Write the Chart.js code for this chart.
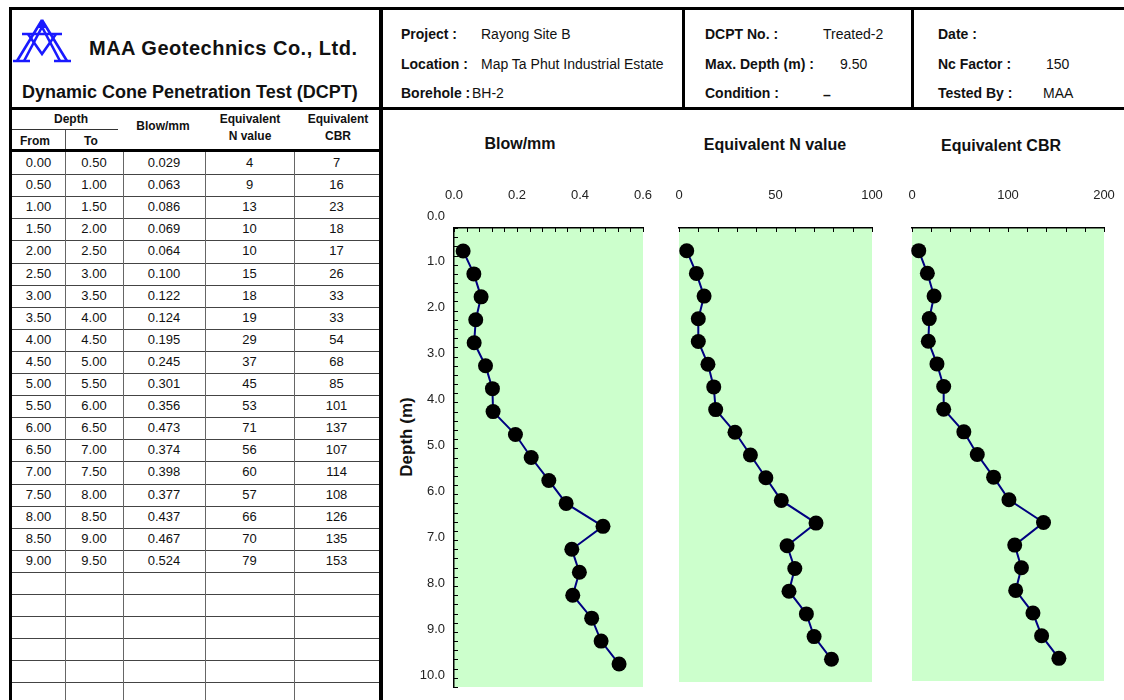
<!DOCTYPE html>
<html>
<head>
<meta charset="utf-8">
<title>DCPT Report - Treated-2</title>
<script src="https://cdn.jsdelivr.net/npm/chart.js@4.4.1/dist/chart.umd.min.js"></script>
<style>
  html, body { margin: 0; padding: 0; }
  body {
    width: 1124px; height: 700px; overflow: hidden; position: relative;
    background: #fff; color: #111;
    font-family: "Liberation Sans", Arial, sans-serif;
  }
  .ln { position: absolute; background: #000; }
  .t { position: absolute; white-space: nowrap; }
  canvas { position: absolute; }
</style>
</head>
<body>

<svg style="position:absolute;left:13px;top:18px" width="60" height="46" viewBox="0 0 60 46">
  <g stroke="#1a1aff" stroke-width="2.6" fill="none" stroke-linejoin="miter">
    <path d="M29 2 L4 43 M29 9 L11 43"/>
    <path d="M29 2 L54 43 M29 9 L47 43"/>
    <path d="M9 16 H49"/>
    <path d="M15 16 L29 36 L43 16"/>
    <path d="M0 43 H17 M41 43 H58"/>
  </g>
  <path d="M29 1 L25 10 L33 10 Z" fill="#1a1aff"/>
</svg>

<script>
// ---- Test data (depth intervals in metres) ----
const depthFrom = [0.00, 0.50, 1.00, 1.50, 2.00, 2.50, 3.00, 3.50, 4.00, 4.50,
                   5.00, 5.50, 6.00, 6.50, 7.00, 7.50, 8.00, 8.50, 9.00];
const depthTo   = [0.50, 1.00, 1.50, 2.00, 2.50, 3.00, 3.50, 4.00, 4.50, 5.00,
                   5.50, 6.00, 6.50, 7.00, 7.50, 8.00, 8.50, 9.00, 9.50];
const blowPerMm = [0.029, 0.063, 0.086, 0.069, 0.064, 0.100, 0.122, 0.124, 0.195, 0.245,
                   0.301, 0.356, 0.473, 0.374, 0.398, 0.377, 0.437, 0.467, 0.524];
const nValue    = [4, 9, 13, 10, 10, 15, 18, 19, 29, 37, 45, 53, 71, 56, 60, 57, 66, 70, 79];
const cbr       = [7, 16, 23, 18, 17, 26, 33, 33, 54, 68, 85, 101, 137, 107, 114, 108, 126, 135, 153];

// Axis tick labels
const depthTicks = [0, 1, 2, 3, 4, 5, 6, 7, 8, 9, 10];
const blowTicks  = [0, 0.2, 0.4, 0.6];
const nTicks     = [0, 50, 100];
const cbrTicks   = [0, 100, 200];

const FONT = '"Liberation Sans", Arial, sans-serif';

// ---- small DOM helpers ----
function line(x, y, w, h, color) {
  const d = document.createElement('div');
  d.className = 'ln';
  Object.assign(d.style, { left: x + 'px', top: y + 'px', width: w + 'px', height: h + 'px' });
  if (color) d.style.background = color;
  document.body.appendChild(d);
}
function text(str, x, cy, size, bold, center) {
  const d = document.createElement('div');
  d.className = 't';
  d.textContent = str;
  d.style.font = (bold ? 'bold ' : '') + size + 'px ' + FONT;
  d.style.lineHeight = '20px';
  d.style.left = x + 'px';
  d.style.top = (cy - 10) + 'px';
  if (center) d.style.transform = 'translateX(-50%)';
  document.body.appendChild(d);
  return d;
}

// ---- report frame ----
line(9, 7, 1115, 3);       // top
line(9, 107, 1115, 3);     // under header
line(9, 7, 3, 693);        // left
line(379, 7, 4, 693);      // between table and plots
line(682, 7, 3, 102);
line(911, 7, 3, 102);

// ---- header ----
const company = text('MAA Geotechnics Co., Ltd.', 89, 48, 20, true);
company.style.letterSpacing = '0.5px';
text('Dynamic Cone Penetration Test (DCPT)', 22, 92, 18, true);

const headerRows = [
  [401, 'Project :', 481, 'Rayong Site B'],
  [401, 'Location :', 481, 'Map Ta Phut Industrial Estate'],
  [401, 'Borehole :', 472, 'BH-2'],
  [705, 'DCPT No. :', 823, 'Treated-2'],
  [705, 'Max. Depth (m) :', 840, '9.50'],
  [705, 'Condition :', 823, '\u2013'],
  [938, 'Date :', 0, ''],
  [938, 'Nc Factor :', 1046, '150'],
  [938, 'Tested By :', 1043, 'MAA']
];
const rowY = [34, 64, 93];
headerRows.forEach((r, i) => {
  const y = rowY[i % 3];
  text(r[1], r[0], y, 14, true);
  if (r[3]) {
    const dash = r[3] === '\u2013';
    text(r[3], r[2], dash ? y + 2 : y, 14, dash);
  }
});

// ---- data table ----
const colEdges = [12, 65, 123, 205, 294, 379];
const rowTop = 152, rowH = 22.1, blankRows = 6;

text('Depth', 71, 119, 12, true, true);
line(12, 129, 106, 1, '#333');
line(65, 130, 1, 20, '#555');
text('From', 35, 141, 12, true, true);
text('To', 91, 141, 12, true, true);
text('Blow/mm', 163, 126, 12, true, true);
text('Equivalent', 250, 119, 12, true, true);
text('N value', 250, 136, 12, true, true);
text('Equivalent', 338, 119, 12, true, true);
text('CBR', 338, 136, 12, true, true);
line(9, 149, 372, 3);

const cols = [
  depthFrom.map(v => v.toFixed(2)),
  depthTo.map(v => v.toFixed(2)),
  blowPerMm.map(v => v.toFixed(3)),
  nValue.map(String),
  cbr.map(String)
];
const totalRows = depthFrom.length + blankRows;
for (let r = 0; r < totalRows; r++) {
  const top = rowTop + r * rowH;
  if (r < depthFrom.length) {
    cols.forEach((c, ci) => {
      text(c[r], (colEdges[ci] + colEdges[ci + 1]) / 2, top + rowH / 2, 13, false, true);
    });
  }
  line(12, Math.round(top + rowH), 367, 1, '#444');
}
for (let i = 1; i < colEdges.length - 1; i++) line(colEdges[i], rowTop, 1, 700 - rowTop, '#666');

// ---- plot titles ----
text('Blow/mm', 520, 144, 16, true, true);
text('Equivalent N value', 775, 145, 16, true, true);
text('Equivalent CBR', 1001, 146, 16, true, true);
const depthTitle = text('Depth (m)', 407, 437, 17, true);
depthTitle.style.transform = 'translate(-50%, 0) rotate(-90deg)';
depthTitle.style.transformOrigin = '50% 50%';

// ---- Chart.js plugins ----
const plotFill = {
  id: 'plotFill',
  beforeDraw(chart, args, opts) {
    const { ctx, chartArea: a } = chart;
    ctx.save();
    ctx.fillStyle = opts.color;
    ctx.fillRect(a.left, a.top, a.width, a.height);
    ctx.restore();
  }
};
// short inward tick marks along the top axis (and the depth axis)
const innerTicks = {
  id: 'innerTicks',
  beforeDatasetsDraw(chart, args, o) {
    const { ctx, chartArea: a, scales: { x, y } } = chart;
    ctx.save();
    ctx.strokeStyle = '#000';
    ctx.lineWidth = 1;
    ctx.beginPath();
    const nx = Math.round((x.max - x.min) / o.xStep);
    for (let i = 0; i <= nx; i++) {
      const px = Math.round(x.getPixelForValue(x.min + i * o.xStep)) + 0.5;
      ctx.moveTo(px, a.top);
      ctx.lineTo(px, a.top + o.len);
    }
    if (o.yStep) {
      const ny = Math.round((y.max - y.min) / o.yStep);
      for (let i = 0; i <= ny; i++) {
        const py = Math.round(y.getPixelForValue(y.min + i * o.yStep)) + 0.5;
        ctx.moveTo(a.left, py);
        ctx.lineTo(a.left + o.len, py);
      }
    }
    ctx.stroke();
    ctx.restore();
  }
};

Chart.defaults.font.family = FONT;

function depthPlot(cfg) {
  const { area, yAxisW, xAxisH, padL, padR, padB, values, xTicks, xMinor, decimals, depthAxis, yMinor } = cfg;
  const cv = document.createElement('canvas');
  const left = area.l - yAxisW - padL;
  const top = area.t - xAxisH;
  const w = padL + yAxisW + (area.r - area.l) + padR;
  const h = xAxisH + (area.b - area.t) + padB;
  cv.width = w; cv.height = h;
  Object.assign(cv.style, { left: left + 'px', top: top + 'px', width: w + 'px', height: h + 'px' });
  document.body.appendChild(cv);

  return new Chart(cv, {
    type: 'scatter',
    data: {
      datasets: [{
        data: values.map((v, i) => ({ x: v, y: depthTo[i] })),
        showLine: true,
        borderColor: '#000080',
        borderWidth: 2,
        pointRadius: 7.5,
        pointHoverRadius: 7.5,
        pointBackgroundColor: '#000',
        pointBorderColor: '#000',
        pointBorderWidth: 0,
        clip: false
      }]
    },
    options: {
      responsive: false,
      animation: false,
      events: [],
      layout: { padding: { left: padL, right: padR, top: 0, bottom: padB } },
      plugins: {
        legend: { display: false },
        tooltip: { enabled: false },
        plotFill: { color: '#CCFFCC' },
        innerTicks: { xStep: xMinor, yStep: yMinor, len: 4 }
      },
      scales: {
        x: {
          type: 'linear',
          position: 'top',
          min: xTicks[0],
          max: xTicks[xTicks.length - 1],
          grid: { display: false, drawTicks: false, tickLength: 0 },
          border: { display: true, color: '#000', width: 1.5 },
          afterBuildTicks: s => { s.ticks = xTicks.map(v => ({ value: v })); },
          ticks: {
            padding: 25,
            color: '#222',
            font: { size: 13 },
            maxRotation: 0,
            autoSkip: false,
            callback: v => v.toFixed(decimals)
          },
          afterFit: s => { s.height = xAxisH; }
        },
        y: {
          type: 'linear',
          reverse: true,
          min: depthTicks[0],
          max: depthTicks[depthTicks.length - 1],
          display: depthAxis,
          grid: { display: false, drawTicks: false, tickLength: 0 },
          border: { display: true, color: '#000', width: 1.5 },
          afterBuildTicks: s => { s.ticks = depthTicks.map(v => ({ value: v })); },
          ticks: {
            padding: 9,
            labelOffset: -12,
            color: '#222',
            font: { size: 13 },
            autoSkip: false,
            callback: v => v.toFixed(1)
          },
          afterFit: s => { s.width = yAxisW; }
        }
      }
    },
    plugins: [plotFill, innerTicks]
  });
}

depthPlot({
  area: { l: 454, t: 228, r: 643, b: 687 }, yAxisW: 69, xAxisH: 118,
  padL: 0, padR: 40, padB: 25,
  values: blowPerMm, xTicks: blowTicks, xMinor: 0.04, decimals: 1,
  depthAxis: true, yMinor: 0.2
});
depthPlot({
  area: { l: 679, t: 228, r: 872, b: 682 }, yAxisW: 0, xAxisH: 118,
  padL: 40, padR: 40, padB: 25,
  values: nValue, xTicks: nTicks, xMinor: 10, decimals: 0,
  depthAxis: false, yMinor: 0
});
depthPlot({
  area: { l: 912, t: 228, r: 1104, b: 681 }, yAxisW: 0, xAxisH: 118,
  padL: 40, padR: 40, padB: 25,
  values: cbr, xTicks: cbrTicks, xMinor: 20, decimals: 0,
  depthAxis: false, yMinor: 0
});
</script>
</body>
</html>
